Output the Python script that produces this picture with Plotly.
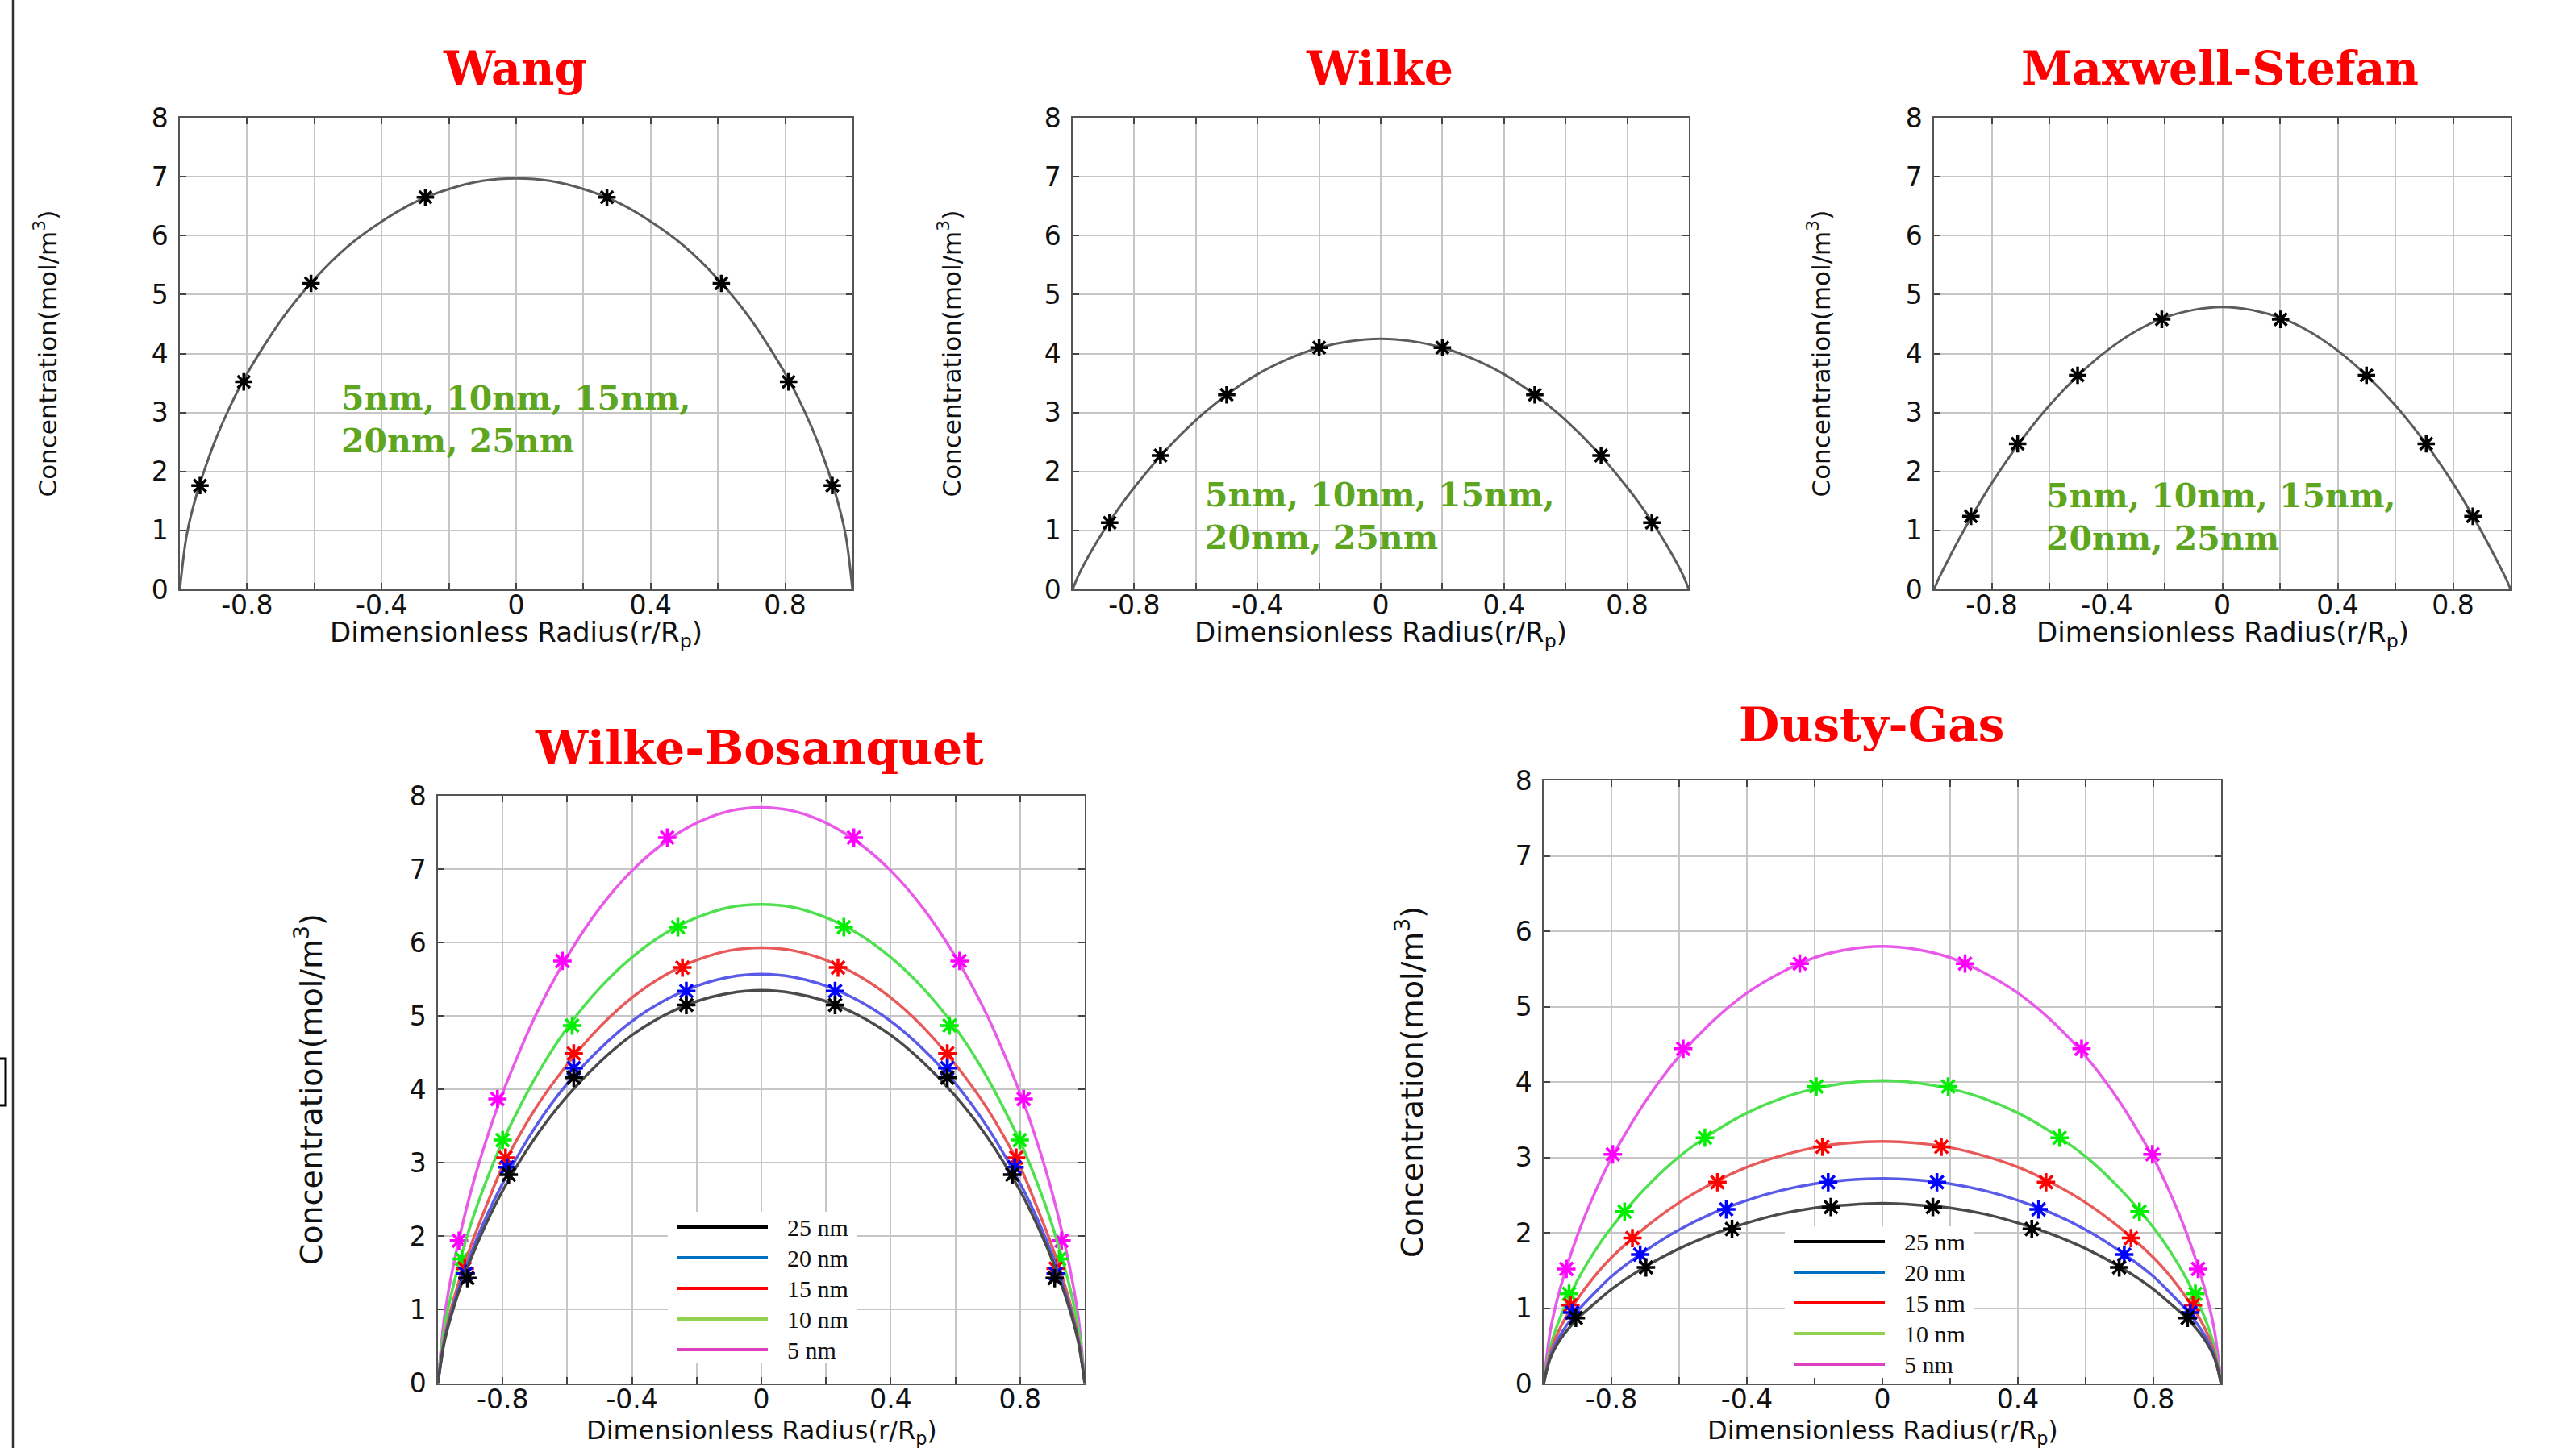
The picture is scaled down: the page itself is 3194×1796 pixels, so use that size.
import plotly.graph_objects as go

# ---------------------------------------------------------------- data ----
# dimensionless radius sampling used for the concentration profiles
X_CURVE = [-1, -0.98, -0.95, -0.9, -0.85, -0.8, -0.7, -0.6, -0.5, -0.4, -0.3, -0.2, -0.1,
           0, 0.1, 0.2, 0.3, 0.4, 0.5, 0.6, 0.7, 0.8, 0.85, 0.9, 0.95, 0.98, 1]

# single-profile models (identical for every pore size)
wang_c = [0, 0.91, 1.61, 2.45, 3.11, 3.66, 4.56, 5.26, 5.82, 6.24, 6.57, 6.79, 6.93,
          6.97, 6.93, 6.79, 6.57, 6.24, 5.82, 5.26, 4.56, 3.66, 3.11, 2.45, 1.61, 0.91, 0]
wang_mx = [-0.94, -0.81, -0.61, -0.27, 0.27, 0.61, 0.81, 0.94]
wang_my = [1.76, 3.52, 5.19, 6.65, 6.65, 5.19, 3.52, 1.76]

wilke_c = [0, 0.25, 0.55, 0.99, 1.38, 1.73, 2.35, 2.87, 3.30, 3.65, 3.91, 4.10, 4.21,
           4.25, 4.21, 4.10, 3.91, 3.65, 3.30, 2.87, 2.35, 1.73, 1.38, 0.99, 0.55, 0.25, 0]
wilke_mx = [-0.88, -0.715, -0.50, -0.20, 0.20, 0.50, 0.715, 0.88]
wilke_my = [1.13, 2.27, 3.30, 4.10, 4.10, 3.30, 2.27, 1.13]

ms_c = [0, 0.22, 0.51, 0.97, 1.40, 1.80, 2.51, 3.12, 3.63, 4.05, 4.38, 4.61, 4.74,
        4.79, 4.74, 4.61, 4.38, 4.05, 3.63, 3.12, 2.51, 1.80, 1.40, 0.97, 0.51, 0.22, 0]
ms_mx = [-0.872, -0.71, -0.502, -0.21, 0.202, 0.50, 0.707, 0.869]
ms_my = [1.24, 2.47, 3.63, 4.58, 4.58, 3.63, 2.47, 1.24]

# pore-size dependent models
PORE_LABELS = ["25 nm", "20 nm", "15 nm", "10 nm", "5 nm"]

wb_c = {
    "5 nm":  [0, 0.90, 1.65, 2.58, 3.32, 3.95, 4.99, 5.81, 6.47, 6.98, 7.36, 7.63, 7.79,
              7.84, 7.79, 7.63, 7.36, 6.98, 6.47, 5.81, 4.99, 3.95, 3.32, 2.58, 1.65, 0.90, 0],
    "10 nm": [0, 0.75, 1.37, 2.14, 2.76, 3.29, 4.15, 4.84, 5.38, 5.80, 6.12, 6.34, 6.48,
              6.52, 6.48, 6.34, 6.12, 5.80, 5.38, 4.84, 4.15, 3.29, 2.76, 2.14, 1.37, 0.75, 0],
    "15 nm": [0, 0.62, 1.16, 1.85, 2.42, 2.95, 3.73, 4.34, 4.85, 5.25, 5.55, 5.76, 5.89,
              5.93, 5.89, 5.76, 5.55, 5.25, 4.85, 4.34, 3.73, 2.95, 2.42, 1.85, 1.16, 0.62, 0],
    "20 nm": [0, 0.58, 1.09, 1.74, 2.27, 2.72, 3.48, 4.08, 4.55, 4.93, 5.21, 5.41, 5.53,
              5.57, 5.53, 5.41, 5.21, 4.93, 4.55, 4.08, 3.48, 2.72, 2.27, 1.74, 1.09, 0.58, 0],
    "25 nm": [0, 0.56, 1.05, 1.67, 2.18, 2.62, 3.34, 3.91, 4.37, 4.74, 5.01, 5.20, 5.31,
              5.35, 5.31, 5.20, 5.01, 4.74, 4.37, 3.91, 3.34, 2.62, 2.18, 1.67, 1.05, 0.56, 0],
}
wb_mx = {
    "5 nm":  [-0.935, -0.816, -0.615, -0.291, 0.286, 0.613, 0.811, 0.928],
    "10 nm": [-0.926, -0.800, -0.585, -0.258, 0.255, 0.582, 0.799, 0.921],
    "15 nm": [-0.917, -0.791, -0.580, -0.244, 0.237, 0.575, 0.788, 0.910],
    "20 nm": [-0.914, -0.786, -0.580, -0.232, 0.228, 0.575, 0.783, 0.910],
    "25 nm": [-0.909, -0.781, -0.580, -0.232, 0.228, 0.575, 0.776, 0.907],
}
wb_my = {
    "5 nm":  [1.94, 3.87, 5.75, 7.43, 7.43, 5.75, 3.87, 1.94],
    "10 nm": [1.69, 3.31, 4.87, 6.21, 6.21, 4.87, 3.31, 1.69],
    "15 nm": [1.56, 3.07, 4.49, 5.66, 5.66, 4.49, 3.07, 1.56],
    "20 nm": [1.49, 2.94, 4.29, 5.34, 5.34, 4.29, 2.94, 1.49],
    "25 nm": [1.43, 2.84, 4.16, 5.15, 5.15, 4.16, 2.84, 1.43],
}

dg_c = {
    "5 nm":  [0, 0.71, 1.28, 1.97, 2.52, 2.99, 3.74, 4.34, 4.81, 5.18, 5.45, 5.65, 5.76,
              5.80, 5.76, 5.65, 5.45, 5.18, 4.81, 4.34, 3.74, 2.99, 2.52, 1.97, 1.28, 0.71, 0],
    "10 nm": [0, 0.49, 0.89, 1.37, 1.75, 2.07, 2.59, 3.01, 3.33, 3.59, 3.78, 3.91, 3.99,
              4.02, 3.99, 3.91, 3.78, 3.59, 3.33, 3.01, 2.59, 2.07, 1.75, 1.37, 0.89, 0.49, 0],
    "15 nm": [0, 0.42, 0.75, 1.12, 1.42, 1.67, 2.07, 2.40, 2.66, 2.87, 3.02, 3.13, 3.19,
              3.21, 3.19, 3.13, 3.02, 2.87, 2.66, 2.40, 2.07, 1.67, 1.42, 1.12, 0.75, 0.42, 0],
    "20 nm": [0, 0.37, 0.65, 0.96, 1.20, 1.42, 1.76, 2.04, 2.26, 2.43, 2.56, 2.65, 2.70,
              2.72, 2.70, 2.65, 2.56, 2.43, 2.26, 2.04, 1.76, 1.42, 1.20, 0.96, 0.65, 0.37, 0],
    "25 nm": [0, 0.34, 0.59, 0.86, 1.06, 1.25, 1.55, 1.79, 1.98, 2.13, 2.25, 2.33, 2.37,
              2.39, 2.37, 2.33, 2.25, 2.13, 1.98, 1.79, 1.55, 1.25, 1.06, 0.86, 0.59, 0.34, 0],
}
dg_mx = {
    "5 nm":  [-0.933, -0.796, -0.588, -0.244, 0.244, 0.588, 0.797, 0.932],
    "10 nm": [-0.925, -0.761, -0.524, -0.195, 0.194, 0.523, 0.759, 0.924],
    "15 nm": [-0.921, -0.738, -0.487, -0.177, 0.174, 0.483, 0.734, 0.917],
    "20 nm": [-0.916, -0.715, -0.461, -0.160, 0.161, 0.461, 0.714, 0.909],
    "25 nm": [-0.905, -0.698, -0.444, -0.152, 0.149, 0.441, 0.699, 0.901],
}
dg_my = {
    "5 nm":  [1.52, 3.04, 4.44, 5.57, 5.57, 4.44, 3.04, 1.52],
    "10 nm": [1.19, 2.28, 3.26, 3.94, 3.94, 3.26, 2.28, 1.19],
    "15 nm": [1.04, 1.93, 2.67, 3.14, 3.14, 2.67, 1.93, 1.04],
    "20 nm": [0.94, 1.71, 2.31, 2.67, 2.67, 2.31, 1.71, 0.94],
    "25 nm": [0.87, 1.54, 2.05, 2.34, 2.34, 2.05, 1.54, 0.87],
}

X_TICKS = [-0.8, -0.4, 0, 0.4, 0.8]
X_TICK_TEXT = ["-0.8", "-0.4", "0", "0.4", "0.8"]
Y_TICKS = [0, 1, 2, 3, 4, 5, 6, 7, 8]
Y_TICK_TEXT = ["0", "1", "2", "3", "4", "5", "6", "7", "8"]

TITLES = ["Wang", "Wilke", "Maxwell-Stefan", "Wilke-Bosanquet", "Dusty-Gas"]
POOLED_NOTE = "5nm, 10nm, 15nm,<br>20nm, 25nm"
Y_TITLE = "Concentration(mol/m<sup>3</sup>)"
X_TITLE = "Dimensionless Radius(r/R<sub>p</sub>)"

# ------------------------------------------------------------- styling ----
W, H = 3194, 1796
LINE_COLORS = {"5 nm": "#e85ae8", "10 nm": "#4fe04f", "15 nm": "#e85a5a",
               "20 nm": "#5a5ae8", "25 nm": "#4a4a4a"}
MARKER_COLORS = {"5 nm": "#ff00ff", "10 nm": "#00ee00", "15 nm": "#ff0000",
                 "20 nm": "#0000ff", "25 nm": "#000000"}
LEGEND_COLORS = {"25 nm": "#000000", "20 nm": "#0070c0", "15 nm": "#ff0000",
                 "10 nm": "#92d050", "5 nm": "#e040c0"}
GRID = "#c6c6c6"
FRAME = "#555555"


def px(x):
    return x / W


def py(y):
    return 1 - y / H


# panel frames in page pixels: (left, right, top, bottom)
PANELS = [
    dict(box=(223, 1057, 146, 731), title_xy=(638, 84), ytitle_x=56, small=True, note=(421, 468)),
    dict(box=(1330, 2094, 146, 731), title_xy=(1710, 84), ytitle_x=1177, small=True, note=(1492, 588)),
    dict(box=(2398, 3113, 146, 731), title_xy=(2752, 84), ytitle_x=2255, small=True, note=(2535, 589)),
    dict(box=(543, 1345, 987, 1715.5), title_xy=(941, 928), ytitle_x=383, small=False,
         legend=(828, 1503)),
    dict(box=(1914, 2754, 968, 1716), title_xy=(2320, 899), ytitle_x=1748, small=False,
         legend=(2213, 1521)),
]

fig = go.Figure()

for i, p in enumerate(PANELS):
    n = "" if i == 0 else str(i + 1)
    left, right, top, bottom = p["box"]
    tick_font = dict(family="DejaVu Sans", size=33, color="#111111")
    fig.layout["xaxis" + n] = dict(
        domain=[px(left), px(right)], anchor="y" + n, range=[-1, 1], automargin=False,
        tickmode="array", tickvals=X_TICKS, ticktext=X_TICK_TEXT,
        ticks="inside", ticklen=8, tickwidth=1.5, tickcolor="#444444",
        showgrid=True, gridcolor=GRID, gridwidth=1.5, zeroline=False,
        minor=dict(dtick=0.2, tick0=0, showgrid=True, gridcolor=GRID, gridwidth=1.5,
                   ticks="inside", ticklen=8, tickwidth=1.5, tickcolor="#444444"),
        showline=True, linecolor=FRAME, linewidth=1.5, mirror="ticks",
        tickfont=tick_font, ticklabelstandoff=-10, fixedrange=True,
    )
    fig.layout["yaxis" + n] = dict(
        domain=[py(bottom), py(top)], anchor="x" + n, range=[0, 8], automargin=False,
        tickmode="array", tickvals=Y_TICKS, ticktext=Y_TICK_TEXT,
        ticks="inside", ticklen=8, tickwidth=1.5, tickcolor="#444444",
        showgrid=True, gridcolor=GRID, gridwidth=1.5, zeroline=False,
        showline=True, linecolor=FRAME, linewidth=1.5, mirror="ticks",
        tickfont=tick_font, ticklabelstandoff=6, fixedrange=True,
    )

# single-curve panels
single = [(wang_c, wang_mx, wang_my), (wilke_c, wilke_mx, wilke_my), (ms_c, ms_mx, ms_my)]
for i, (c, mx, my) in enumerate(single):
    n = "" if i == 0 else str(i + 1)
    fig.add_trace(go.Scatter(x=X_CURVE, y=c, mode="lines", xaxis="x" + n, yaxis="y" + n,
                             line=dict(color="#5c5c5c", width=3, shape="spline", smoothing=0.8),
                             showlegend=False, hoverinfo="skip"))
    fig.add_trace(go.Scatter(x=mx, y=my, mode="markers", xaxis="x" + n, yaxis="y" + n,
                             marker=dict(symbol="asterisk-open", size=18, color="#000000",
                                         line=dict(color="#000000", width=3.5)),
                             showlegend=False))

# pore-size panels, drawn from 5 nm up to 25 nm so the darker curves sit on top
for i, (curves, mxs, mys) in ((3, (wb_c, wb_mx, wb_my)), (4, (dg_c, dg_mx, dg_my))):
    n = str(i + 1)
    for key in ["5 nm", "10 nm", "15 nm", "20 nm", "25 nm"]:
        fig.add_trace(go.Scatter(x=X_CURVE, y=curves[key], mode="lines",
                                 xaxis="x" + n, yaxis="y" + n,
                                 line=dict(color=LINE_COLORS[key], width=3.5,
                                           shape="spline", smoothing=0.8),
                                 showlegend=False, hoverinfo="skip"))
        fig.add_trace(go.Scatter(x=mxs[key], y=mys[key], mode="markers",
                                 xaxis="x" + n, yaxis="y" + n,
                                 marker=dict(symbol="asterisk-open", size=19,
                                             color=MARKER_COLORS[key],
                                             line=dict(color=MARKER_COLORS[key], width=3.5)),
                                 showlegend=False))

annotations = []
shapes = []

for i, p in enumerate(PANELS):
    left, right, top, bottom = p["box"]
    cx = (left + right) / 2
    cy = (top + bottom) / 2
    tx, ty = p["title_xy"]
    annotations.append(dict(
        x=px(tx), y=py(ty), xref="paper", yref="paper", xanchor="center", yanchor="middle",
        text="<b>" + TITLES[i] + "</b>", showarrow=False,
        font=dict(family="DejaVu Serif", size=57 if p["small"] else 58, color="#ff0000")))
    ysize = 31 if p["small"] else 38
    annotations.append(dict(
        x=px(p["ytitle_x"]), y=py(cy), xref="paper", yref="paper", xanchor="center",
        yanchor="middle", textangle=-90, text=Y_TITLE, showarrow=False,
        font=dict(family="DejaVu Sans", size=ysize, color="#111111")))
    xt_y = 786 if p["small"] else 1776
    annotations.append(dict(
        x=px(cx), y=py(xt_y), xref="paper", yref="paper", xanchor="center",
        yanchor="middle", text=X_TITLE, showarrow=False,
        font=dict(family="DejaVu Sans", size=34 if p["small"] else 32, color="#111111")))
    if "note" in p:
        nx, ny = p["note"]
        annotations.append(dict(
            x=px(nx), y=py(ny), xref="paper", yref="paper", xanchor="left", yanchor="top",
            align="left", text="<b>" + POOLED_NOTE + "</b>", showarrow=False,
            font=dict(family="DejaVu Serif", size=41, color="#5ea61f")))
    if "legend" in p:
        lx, ly = p["legend"]
        shapes.append(dict(type="rect", xref="paper", yref="paper",
                           x0=px(lx), x1=px(lx + 234), y0=py(ly + 188), y1=py(ly),
                           fillcolor="#ffffff", line=dict(width=0), layer="above"))
        for k, lab in enumerate(PORE_LABELS):
            yy = ly + 19 + 38 * k
            shapes.append(dict(type="line", xref="paper", yref="paper",
                               x0=px(lx + 12), x1=px(lx + 124), y0=py(yy), y1=py(yy),
                               line=dict(color=LEGEND_COLORS[lab], width=4), layer="above"))
            annotations.append(dict(
                x=px(lx + 146), y=py(yy), xref="paper", yref="paper", xanchor="left",
                yanchor="middle", text=lab, showarrow=False,
                font=dict(family="Liberation Serif", size=30, color="#111111")))

# page border pieces at the left edge
shapes.append(dict(type="line", xref="paper", yref="paper", x0=px(16), x1=px(16),
                   y0=0, y1=1, line=dict(color="#333333", width=2.5)))
shapes.append(dict(type="rect", xref="paper", yref="paper", x0=px(-20), x1=px(7),
                   y0=py(1371), y1=py(1313), line=dict(color="#000000", width=3)))

fig.update_layout(
    width=W, height=H, margin=dict(l=0, r=0, t=0, b=0, pad=0, autoexpand=False),
    paper_bgcolor="#ffffff", plot_bgcolor="#ffffff",
    annotations=annotations, shapes=shapes, showlegend=False,
)

fig.write_html("out.html", config={"displayModeBar": False})
